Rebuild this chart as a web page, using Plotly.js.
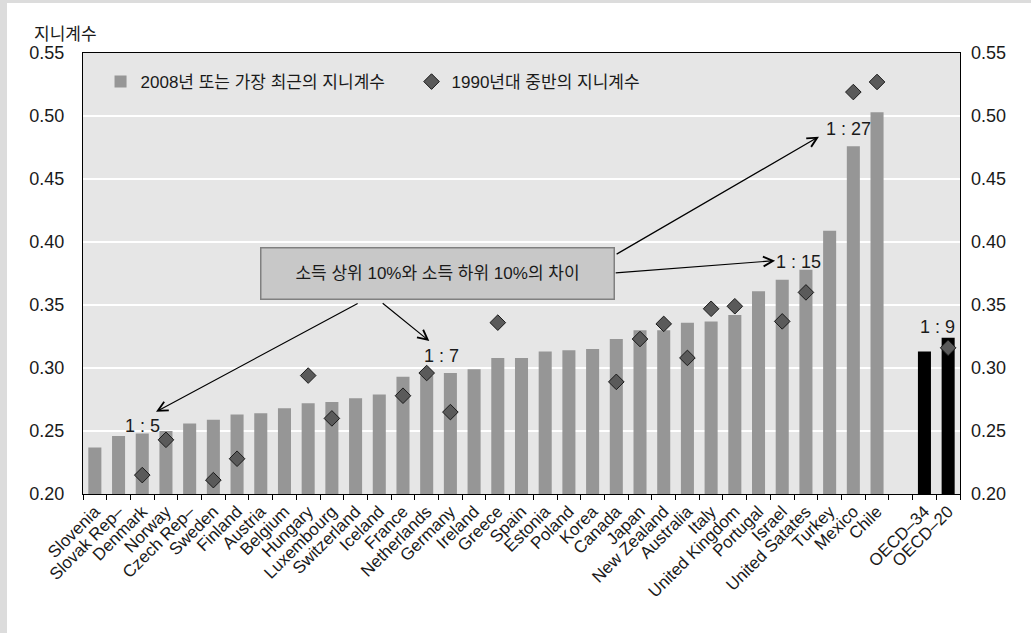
<!DOCTYPE html>
<html>
<head>
<meta charset="utf-8">
<script src="https://cdn.plot.ly/plotly-3.0.1.min.js"></script>
<style>
  html, body { margin: 0; padding: 0; background: #ffffff; overflow: hidden; }
  .band { position: absolute; background: #dcdcdc; }
  #bandTop { left: 0; top: 0; width: 1031px; height: 3px; }
  #bandLeft { left: 0; top: 0; width: 7px; height: 633px; }
  #chart { position: absolute; left: 7px; top: 3px; width: 1024px; height: 630px; }
</style>
</head>
<body>
<div class="band" id="bandTop"></div>
<div class="band" id="bandLeft"></div>
<div id="chart"></div>
<script>
// Gini coefficients by country, ordered by the latest value
const countries = [
  'Slovenia', 'Slovak Rep–', 'Denmark', 'Norway', 'Czech Rep–', 'Sweden', 'Finland',
  'Austria', 'Belgium', 'Hungary', 'Luxembourg', 'Switzerland', 'Iceland', 'France',
  'Netherlands', 'Germany', 'Ireland', 'Greece', 'Spain', 'Estonia', 'Poland', 'Korea',
  'Canada', 'Japan', 'New Zealand', 'Australia', 'Italy', 'United Kingdom', 'Portugal',
  'Israel', 'United Satates', 'Turkey', 'Mexico', 'Chile', ' ', 'OECD–34', 'OECD–20'
];

// 2008 or latest year
const giniLatest = [
  0.237, 0.246, 0.248, 0.250, 0.256, 0.259, 0.263,
  0.264, 0.268, 0.272, 0.273, 0.276, 0.279, 0.293,
  0.294, 0.296, 0.299, 0.308, 0.308, 0.313, 0.314, 0.315,
  0.323, 0.330, 0.330, 0.336, 0.337, 0.342, 0.361,
  0.370, 0.378, 0.409, 0.476, 0.503, null, 0.313, 0.324
];

// mid-1990s
const giniMid90s = [
  null, null, 0.215, 0.243, null, 0.211, 0.228,
  null, null, 0.294, 0.260, null, null, 0.278,
  0.296, 0.265, null, 0.336, null, null, null, null,
  0.289, 0.323, 0.335, 0.308, 0.347, 0.349, null,
  0.337, 0.360, null, 0.519, 0.527, null, null, 0.316
];

const seriesNames = ['2008년 또는 가장 최근의 지니계수', '1990년대 중반의 지니계수'];
const yTicks = [0.20, 0.25, 0.30, 0.35, 0.40, 0.45, 0.50, 0.55];

const FONT = 'Liberation Sans, Arial, Noto Sans CJK KR, sans-serif';
const INK = '#1a1a1a';

const barColors = countries.map(c => c.startsWith('OECD') ? '#000000' : '#969696');

const traces = [
  {
    type: 'bar',
    name: seriesNames[0],
    x: countries,
    y: giniLatest,
    width: 0.55,
    marker: { color: barColors, line: { width: 0 } },
    hoverinfo: 'x+y'
  },
  {
    type: 'scatter',
    mode: 'markers',
    name: seriesNames[1],
    x: countries,
    y: giniMid90s,
    yaxis: 'y2',
    marker: { symbol: 'diamond', size: 12, color: '#5a5a5a', line: { color: '#1a1a1a', width: 1 } },
    hoverinfo: 'x+y'
  }
];

// arrows from the caption box to the ratio labels
function arrow(x, y, ax, ay) {
  return {
    x: x, y: y, ax: ax, ay: ay, xref: 'x', yref: 'y', axref: 'x', ayref: 'y',
    text: '', showarrow: true, arrowhead: 5, arrowsize: 1.6, arrowwidth: 1.2,
    arrowcolor: '#000000', standoff: 0, startstandoff: 0
  };
}
function ratio(text, x, y) {
  return {
    x: x, y: y, xref: 'x', yref: 'y', text: text, showarrow: false,
    font: { family: FONT, size: 18, color: INK }
  };
}

const annotations = [
  arrow(2.58, 0.2653, 11.15, 0.3518),
  arrow(14.11, 0.3214, 12.08, 0.3524),
  arrow(28.70, 0.3852, 21.91, 0.3754),
  arrow(30.55, 0.4836, 21.95, 0.3897),
  {
    x: 14.44, y: 0.3754, xref: 'x', yref: 'y', showarrow: false,
    text: '소득 상위 10%와 소득 하위 10%의 차이',
    font: { family: FONT, size: 17, color: INK },
    bgcolor: '#c8c8c8', bordercolor: '#808080', borderwidth: 1.5, borderpad: 1,
    width: 350, height: 48, align: 'center', valign: 'middle'
  },
  ratio('1 : 5', 2.03, 0.254),
  ratio('1 : 7', 14.61, 0.3095),
  ratio('1 : 15', 29.67, 0.3844),
  ratio('1 : 27', 31.78, 0.4897),
  ratio('1 : 9', 35.53, 0.3328),
  {
    x: -0.058, y: 1.0415, xref: 'paper', yref: 'paper', xanchor: 'left', yanchor: 'middle',
    text: '지니계수', showarrow: false,
    font: { family: FONT, size: 17, color: INK }
  }
];

const yCommon = {
  range: [0.2, 0.55],
  tickvals: yTicks,
  tickformat: '.2f',
  ticks: '',
  zeroline: false,
  fixedrange: true,
  tickfont: { family: FONT, size: 18, color: INK }
};

const layout = {
  width: 1024,
  height: 630,
  margin: { l: 76, r: 71, t: 50, b: 139 },
  paper_bgcolor: '#ffffff',
  plot_bgcolor: '#e6e6e6',
  font: { family: FONT, color: INK },
  barmode: 'overlay',
  showlegend: true,
  legend: {
    orientation: 'h',
    x: 0.02, y: 0.975, xanchor: 'left', yanchor: 'top',
    bgcolor: 'rgba(0,0,0,0)',
    font: { family: FONT, size: 17, color: INK },
    entrywidth: 266
  },
  xaxis: {
    type: 'category',
    range: [-0.5, 36.5],
    tickangle: -45,
    ticks: 'outside',
    tickson: 'boundaries',
    ticklen: 5,
    tickcolor: '#000000',
    tickwidth: 1,
    showgrid: false,
    showline: true,
    linecolor: '#000000',
    linewidth: 1,
    mirror: true,
    fixedrange: true,
    tickfont: { family: FONT, size: 17, color: INK }
  },
  yaxis: Object.assign({}, yCommon, {
    showgrid: true,
    gridcolor: '#ffffff',
    gridwidth: 1.5,
    showline: true,
    linecolor: '#000000',
    linewidth: 1,
    mirror: true,
    ticklabelstandoff: 14
  }),
  yaxis2: Object.assign({}, yCommon, {
    overlaying: 'y',
    side: 'right',
    showgrid: false,
    showline: false,
    ticklabelstandoff: 10
  }),
  annotations: annotations
};

Plotly.newPlot('chart', traces, layout, { displayModeBar: false, staticPlot: true });
</script>
</body>
</html>
